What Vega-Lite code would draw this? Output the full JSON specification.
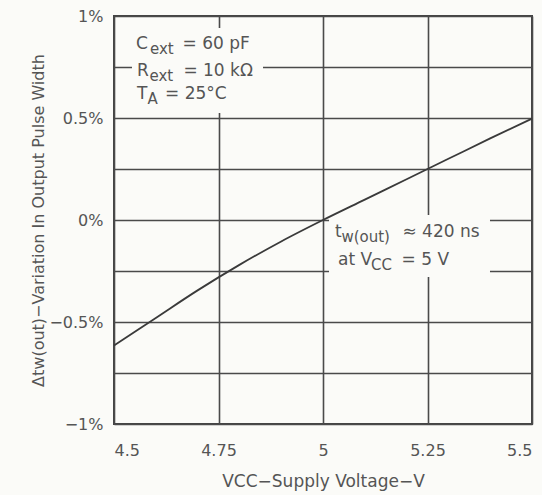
{
  "$schema": "https://vega.github.io/schema/vega-lite/v6.json",
  "width": 418,
  "height": 408,
  "autosize": "none",
  "padding": {"left": 114, "top": 16, "right": 10, "bottom": 71},
  "background": "#fbfbf8",
  "config": {
    "view": {"stroke": "#444444", "strokeWidth": 2},
    "font": "DejaVu Sans"
  },
  "datasets": {
    "curve": [
      {"v": 4.5, "d": -0.615},
      {"v": 4.6, "d": -0.48},
      {"v": 4.7, "d": -0.345},
      {"v": 4.8, "d": -0.22},
      {"v": 4.9, "d": -0.105},
      {"v": 5.0, "d": 0.0},
      {"v": 5.1, "d": 0.1},
      {"v": 5.2, "d": 0.2},
      {"v": 5.3, "d": 0.3},
      {"v": 5.4, "d": 0.4},
      {"v": 5.5, "d": 0.497}
    ],
    "boxes": [
      {"v": 4.543, "v2": 4.8565, "d": 0.941, "d2": 0.5245},
      {"v": 5.0144, "v2": 5.3995, "d": 0.0245, "d2": -0.279}
    ],
    "notes": [
      {"v": 4.5526, "d": 0.838, "t": "C", "k": "m"},
      {"v": 4.5860, "d": 0.815, "t": "ext", "k": "s"},
      {"v": 4.664, "d": 0.838, "t": "= 60 pF", "k": "m"},
      {"v": 4.555, "d": 0.706, "t": "R", "k": "m"},
      {"v": 4.585, "d": 0.683, "t": "ext", "k": "s"},
      {"v": 4.666, "d": 0.706, "t": "= 10 kΩ", "k": "m"},
      {"v": 4.555, "d": 0.593, "t": "T", "k": "m"},
      {"v": 4.580, "d": 0.569, "t": "A", "k": "s"},
      {"v": 4.622, "d": 0.593, "t": "= 25°C", "k": "m"},
      {"v": 5.0287, "d": -0.083, "t": "t", "k": "m"},
      {"v": 5.0440, "d": -0.106, "t": "w(out)", "k": "s"},
      {"v": 5.190, "d": -0.083, "t": "≈ 420 ns", "k": "m"},
      {"v": 5.036, "d": -0.221, "t": "at V", "k": "m"},
      {"v": 5.115, "d": -0.245, "t": "CC", "k": "s"},
      {"v": 5.188, "d": -0.221, "t": "= 5 V", "k": "m"}
    ]
  },
  "encoding": {
    "x": {
      "field": "v",
      "type": "quantitative",
      "scale": {"domain": [4.5, 5.5], "nice": false, "zero": false},
      "axis": {
        "values": [4.5, 4.75, 5, 5.25, 5.5],
        "format": ".2~f",
        "grid": true,
        "gridColor": "#4a4a4a",
        "gridWidth": 1.6,
        "gridOpacity": 1,
        "domain": false,
        "ticks": false,
        "labelFont": "DejaVu Sans",
        "labelFontSize": 16,
        "labelColor": "#555555",
        "labelPadding": 18,
        "title": "VCC−Supply Voltage−V",
        "titleFont": "DejaVu Sans",
        "titleFontSize": 17,
        "titleFontWeight": "normal",
        "titleColor": "#555555",
        "titlePadding": 15
      }
    },
    "y": {
      "field": "d",
      "type": "quantitative",
      "scale": {"domain": [-1, 1], "nice": false, "zero": false},
      "axis": {
        "values": [-1, -0.75, -0.5, -0.25, 0, 0.25, 0.5, 0.75, 1],
        "labelExpr": "abs(datum.value*2 - round(datum.value*2)) < 0.01 ? (datum.value < 0 ? '−' : '') + format(abs(datum.value), '~g') + '%' : ''",
        "grid": true,
        "gridColor": "#4a4a4a",
        "gridWidth": 1.6,
        "gridOpacity": 1,
        "domain": false,
        "ticks": false,
        "labelFont": "DejaVu Sans",
        "labelFontSize": 16,
        "labelColor": "#555555",
        "labelPadding": 11,
        "title": "Δtw(out)−Variation In Output Pulse Width",
        "titleFont": "DejaVu Sans",
        "titleFontSize": 16,
        "titleFontWeight": "normal",
        "titleColor": "#555555",
        "titlePadding": 2
      }
    }
  },
  "layer": [
    {
      "data": {"name": "boxes"},
      "mark": {"type": "rect", "fill": "#fbfbf8", "stroke": null},
      "encoding": {
        "x2": {"field": "v2"},
        "y2": {"field": "d2"}
      }
    },
    {
      "data": {"name": "curve"},
      "mark": {"type": "line", "color": "#3a3a3a", "strokeWidth": 1.8, "interpolate": "monotone"},
      "encoding": {}
    },
    {
      "data": {"name": "notes"},
      "transform": [{"filter": "datum.k == 'm'"}],
      "mark": {"type": "text", "align": "left", "baseline": "alphabetic", "fontSize": 17, "font": "DejaVu Sans", "color": "#555555"},
      "encoding": {"text": {"field": "t"}}
    },
    {
      "data": {"name": "notes"},
      "transform": [{"filter": "datum.k == 's'"}],
      "mark": {"type": "text", "align": "left", "baseline": "alphabetic", "fontSize": 15, "font": "DejaVu Sans", "color": "#555555"},
      "encoding": {"text": {"field": "t"}}
    }
  ]
}
